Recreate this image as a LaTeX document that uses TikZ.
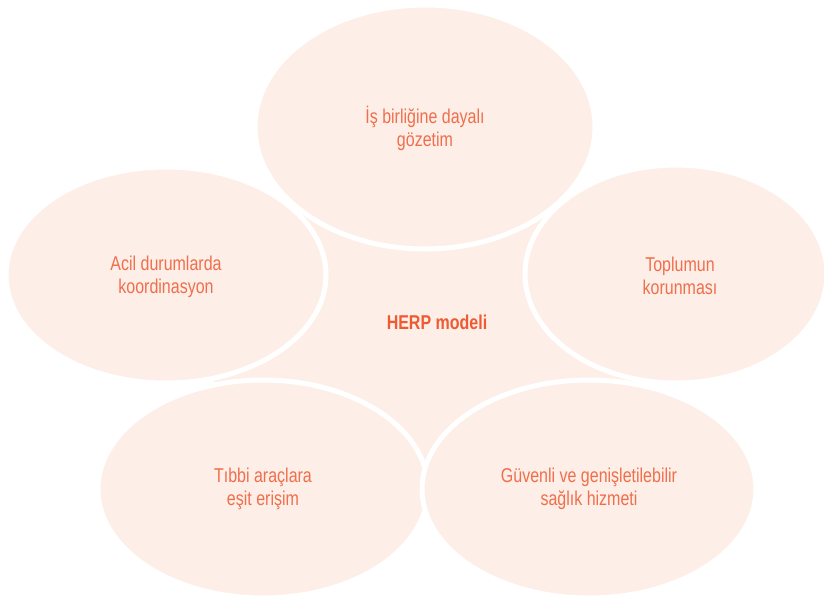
\documentclass[tikz,border=0pt]{standalone}
\usepackage{fontspec}
\setmainfont{Liberation Sans}[FakeStretch=0.8]
\definecolor{peach}{HTML}{FDEFE7}
\definecolor{labeltext}{HTML}{F06E4C}
\definecolor{hubtext}{HTML}{EE5A32}
\begin{document}
\begin{tikzpicture}[x=1pt,y=-1pt,
  petal/.style={ellipse, fill=peach, draw=white, line width=5pt},
  petaltext/.style={align=center, text=labeltext, font=\fontsize{20}{23}\selectfont},
  hubstyle/.style={fill=peach, draw=none},
  hubtextstyle/.style={text=hubtext, font=\fontsize{20}{23}\selectfont\bfseries}]
\useasboundingbox (0,0) rectangle (824,603);
% central pentagon
\fill[peach] (425,127) -- (676,274) -- (589,489) -- (263,489) -- (166,275) -- cycle;
\node[hubtextstyle] (hub) at (437,322) {HERP modeli};
% petals
\draw[fill=peach, draw=white, line width=5pt] (263,489) ellipse [x radius=165, y radius=109];
\node[petaltext] (bl) at (263,489) {Tıbbi araçlara\\eşit erişim};
\draw[fill=peach, draw=white, line width=5pt] (589,489) ellipse [x radius=167, y radius=109];
\node[petaltext] (br) at (589,489) {Güvenli ve genişletilebilir\\sağlık hizmeti};
\draw[fill=peach, draw=white, line width=5pt] (166,275) ellipse [x radius=160, y radius=108];
\node[petaltext] (l) at (166,277) {Acil durumlarda\\koordinasyon};
\draw[fill=peach, draw=white, line width=5pt] (676,274) ellipse [x radius=151, y radius=109];
\node[petaltext] (r) at (680,276) {Toplumun\\korunması};
\draw[fill=peach, draw=white, line width=5pt] (425,127) ellipse [x radius=170, y radius=122];
\node[petaltext] (t) at (425,128) {İş birliğine dayalı\\gözetim};
\end{tikzpicture}
\end{document}
